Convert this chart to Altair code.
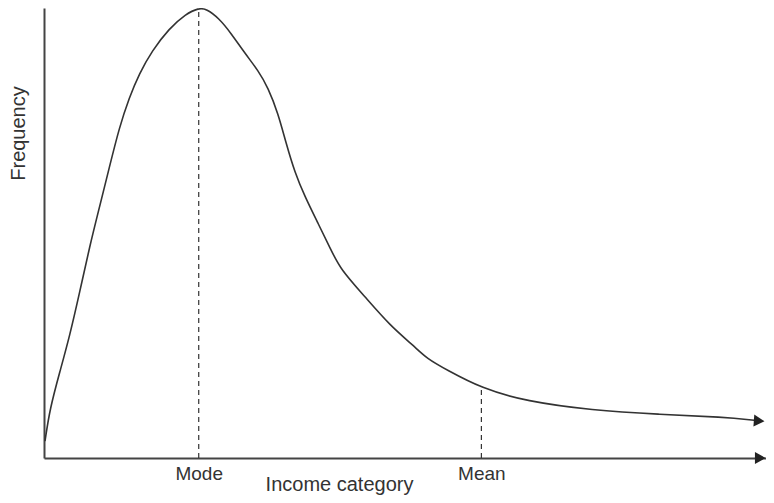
import altair as alt
import pandas as pd

# Income category (x, 0-100) and frequency (y, 0-100)
income = [0.14, 0.82, 2.2, 3.57, 4.95, 6.32, 7.69, 9.07, 10.44, 11.81, 13.19, 14.97,
          17.31, 19.64, 21.43, 22.5, 24.18, 25.96, 27.88, 29.67, 31.04, 32.42, 33.52,
          34.75, 36.13, 37.91, 39.7, 41.07, 44.37, 47.94, 51.24, 53.02, 55.77, 60.58,
          66.76, 75.96, 85.03, 94.23, 98.35]
frequency = [3.75, 11.0, 19.2, 27.2, 36.9, 47.0, 55.8, 64.7, 73.5, 80.1, 85.4, 90.5,
             95.4, 98.7, 100.0, 99.8, 97.8, 94.3, 89.8, 86.1, 82.3, 76.6, 70.0, 63.4,
             58.1, 52.3, 46.4, 41.9, 36.0, 29.4, 24.9, 22.1, 19.6, 15.5, 12.6, 10.6,
             9.7, 9.1, 8.4]

marker_names = ["Mode", "Mean"]
marker_x = [21.43, 60.58]
marker_top = [100.0, 15.5]

x_domain = [0, 100]
y_domain = [0, 100]

FONT = "Liberation Sans"
INK = "#333333"

curve_df = pd.DataFrame({"x": income, "y": frequency})
marker_df = pd.DataFrame({"x": marker_x, "y": marker_top, "y0": [0] * len(marker_x),
                          "name": marker_names})
arrow_df = pd.DataFrame({
    "x": [x_domain[1] - 0.8, income[-1] + 0.7],
    "y": [y_domain[0], frequency[-1] - 0.15],
    "angle": [0, 4],
})

label_expr = " : ".join(
    f"abs(datum.value - {v}) < 0.01 ? '{n}'" for v, n in zip(marker_x, marker_names)
) + " : ''"

xscale = alt.Scale(domain=x_domain, nice=False, zero=False)
yscale = alt.Scale(domain=y_domain, nice=False, zero=False)

xaxis = alt.Axis(
    values=marker_x, labelExpr=label_expr, ticks=False, tickSize=0, grid=False,
    domainColor="#444444", domainWidth=2,
    labelFont=FONT, labelFontSize=19, labelColor=INK, labelPadding=6,
    title="Income category", titleFont=FONT, titleFontSize=20, titleFontWeight="normal",
    titleColor=INK, titleX=295, titleY=26, titleAlign="center", titleBaseline="middle",
)
yaxis = alt.Axis(
    values=[], ticks=False, labels=False, grid=False,
    domainColor="#444444", domainWidth=2,
    title="Frequency", titleFont=FONT, titleFontSize=20, titleFontWeight="normal",
    titleColor=INK, titleX=-26, titleY=125, titleAngle=-90, titleAlign="center",
    titleBaseline="middle",
)

X = alt.X("x:Q", scale=xscale, axis=xaxis)

curve = alt.Chart(curve_df).mark_line(
    interpolate="basis", color=INK, strokeWidth=1.6
).encode(x=X, y=alt.Y("y:Q", scale=yscale, axis=yaxis))

rules = alt.Chart(marker_df).mark_rule(
    color=INK, strokeWidth=1.2, strokeDash=[5, 4]
).encode(x=X, y=alt.Y("y0:Q", scale=yscale, axis=yaxis), y2="y:Q")

arrows = alt.Chart(arrow_df).mark_point(
    shape="triangle-right", filled=True, color="#222222", size=150, opacity=1
).encode(x=X, y=alt.Y("y:Q", scale=yscale, axis=yaxis), angle=alt.Angle("angle:Q", scale=None))

chart = alt.layer(rules, curve, arrows).properties(
    width=722, height=450,
    padding={"left": 36, "top": 0, "right": 0, "bottom": 37},
    autosize=alt.AutoSizeParams(type="none"),
).configure_view(stroke=None)

chart.save("out.html", embed_options={"renderer": "svg", "actions": False})
